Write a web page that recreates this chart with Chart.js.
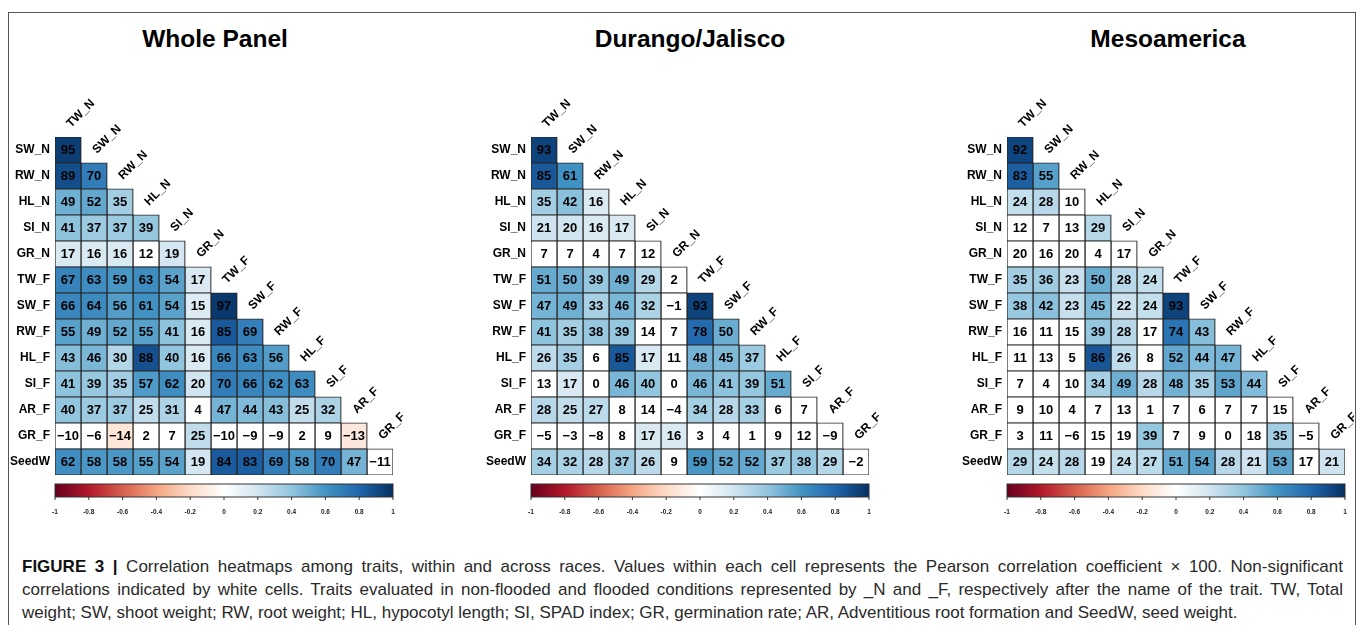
<!DOCTYPE html>
<html>
<head>
<meta charset="utf-8">
<script src="https://cdn.jsdelivr.net/npm/chart.js@4.4.1/dist/chart.umd.min.js"></script>
<style>
  html, body { margin: 0; padding: 0; background: #fff; }
  body { width: 1363px; height: 625px; position: relative; overflow: hidden; font-family: "Liberation Sans", Arial, sans-serif; }
  .frame { position: absolute; left: 8px; top: 12px; width: 1348px; height: 700px; border: 1px solid #555; box-sizing: border-box; }
  .ptitle { position: absolute; top: 25px; font-weight: bold; font-size: 24.5px; line-height: 28px; transform: translateX(-50%); white-space: nowrap; color: #000; }
  canvas { position: absolute; }
  .caption { position: absolute; left: 22px; width: 1321px; top: 555px; font-size: 17px; line-height: 23px; color: #2a2a2a; }
  .caption .j { text-align: justify; text-align-last: justify; }
  .caption b { color: #111; }
</style>
</head>
<body>
<div class="frame"></div>
<div class="ptitle" style="left:215px">Whole Panel</div>
<div class="ptitle" style="left:690px">Durango/Jalisco</div>
<div class="ptitle" style="left:1168px">Mesoamerica</div>
<canvas id="cWhole" width="433" height="450" style="left:0px;top:80px"></canvas>
<canvas id="cDurango" width="433" height="450" style="left:476px;top:80px"></canvas>
<canvas id="cMeso" width="402" height="450" style="left:952px;top:80px"></canvas>
<div class="caption">
  <div class="j"><b>FIGURE 3 |</b> Correlation heatmaps among traits, within and across races. Values within each cell represents the Pearson correlation coefficient × 100. Non-significant</div>
  <div class="j">correlations indicated by white cells. Traits evaluated in non-flooded and flooded conditions represented by _N and _F, respectively after the name of the trait. TW, Total</div>
  <div>weight; SW, shoot weight; RW, root weight; HL, hypocotyl length; SI, SPAD index; GR, germination rate; AR, Adventitious root formation and SeedW, seed weight.</div>
</div>
<script>
// Trait names: rows of the lower triangle and the columns above it
const rowTraits = ["SW_N", "RW_N", "HL_N", "SI_N", "GR_N", "TW_F", "SW_F", "RW_F", "HL_F", "SI_F", "AR_F", "GR_F", "SeedW"];
const colTraits = ["TW_N", "SW_N", "RW_N", "HL_N", "SI_N", "GR_N", "TW_F", "SW_F", "RW_F", "HL_F", "SI_F", "AR_F", "GR_F"];

// Colour key tick labels
const colorbarTicks = [-1, -0.8, -0.6, -0.4, -0.2, 0, 0.2, 0.4, 0.6, 0.8, 1];

// Pearson r x 100, lower triangle, one array per row
const wholeValues = [
  [95],
  [89, 70],
  [49, 52, 35],
  [41, 37, 37, 39],
  [17, 16, 16, 12, 19],
  [67, 63, 59, 63, 54, 17],
  [66, 64, 56, 61, 54, 15, 97],
  [55, 49, 52, 55, 41, 16, 85, 69],
  [43, 46, 30, 88, 40, 16, 66, 63, 56],
  [41, 39, 35, 57, 62, 20, 70, 66, 62, 63],
  [40, 37, 37, 25, 31, 4, 47, 44, 43, 25, 32],
  [-10, -6, -14, 2, 7, 25, -10, -9, -9, 2, 9, -13],
  [62, 58, 58, 55, 54, 19, 84, 83, 69, 58, 70, 47, -11]
];
// 1 = significant (coloured), 0 = not significant (white)
const wholeSig = [
  "1", "11", "111", "1111", "11101", "111111", "1111111", "11111111",
  "111111111", "1111111111", "11111011111", "001001000001", "1111111111110"
];

const durangoValues = [
  [93],
  [85, 61],
  [35, 42, 16],
  [21, 20, 16, 17],
  [7, 7, 4, 7, 12],
  [51, 50, 39, 49, 29, 2],
  [47, 49, 33, 46, 32, -1, 93],
  [41, 35, 38, 39, 14, 7, 78, 50],
  [26, 35, 6, 85, 17, 11, 48, 45, 37],
  [13, 17, 0, 46, 40, 0, 46, 41, 39, 51],
  [28, 25, 27, 8, 14, -4, 34, 28, 33, 6, 7],
  [-5, -3, -8, 8, 17, 16, 3, 4, 1, 9, 12, -9],
  [34, 32, 28, 37, 26, 9, 59, 52, 52, 37, 38, 29, -2]
];
const durangoSig = [
  "1", "11", "111", "1111", "00000", "111110", "1111101", "11110011",
  "110110111", "0101101111", "11100011100", "000011000000", "1111101111110"
];

const mesoValues = [
  [92],
  [83, 55],
  [24, 28, 10],
  [12, 7, 13, 29],
  [20, 16, 20, 4, 17],
  [35, 36, 23, 50, 28, 24],
  [38, 42, 23, 45, 22, 24, 93],
  [16, 11, 15, 39, 28, 17, 74, 43],
  [11, 13, 5, 86, 26, 8, 52, 44, 47],
  [7, 4, 10, 34, 49, 28, 48, 35, 53, 44],
  [9, 10, 4, 7, 13, 1, 7, 6, 7, 7, 15],
  [3, 11, -6, 15, 19, 39, 7, 9, 0, 18, 35, -5],
  [29, 24, 28, 19, 24, 27, 51, 54, 28, 21, 53, 17, 21]
];
const mesoSig = [
  "1", "11", "110", "0001", "00000", "111111", "1111111", "00011011",
  "000110111", "0001111111", "00000000000", "000001000010", "1110111111101"
];

// Diverging red-white-blue scale from -1 to 1
const rdbu = ["#67001F", "#B2182B", "#D6604D", "#F4A582", "#FDDBC7", "#FFFFFF",
              "#D1E5F0", "#92C5DE", "#4393C3", "#2166AC", "#053061"];

function hexToRgb(h) {
  return [parseInt(h.slice(1, 3), 16), parseInt(h.slice(3, 5), 16), parseInt(h.slice(5, 7), 16)];
}
function corrColor(r) {
  const t = Math.max(0, Math.min(1, (r + 1) / 2)) * (rdbu.length - 1);
  const i = Math.min(rdbu.length - 2, Math.floor(t));
  const f = t - i;
  const a = hexToRgb(rdbu[i]), b = hexToRgb(rdbu[i + 1]);
  const c = a.map((v, k) => Math.round(v + (b[k] - v) * f));
  return `rgb(${c[0]},${c[1]},${c[2]})`;
}
function fmt(v) { return v < 0 ? "\u2212" + Math.abs(v) : String(v); }

const FONT = '"Liberation Sans", Arial, Helvetica, sans-serif';

// Cell numbers, rotated column names and the colour key
const heatLabels = {
  id: 'heatLabels',
  afterDatasetsDraw(chart, args, opts) {
    const { ctx, scales: { x, y }, chartArea } = chart;
    const vals = opts.values;
    const rowH = y.getPixelForValue(1) - y.getPixelForValue(0);

    ctx.save();
    ctx.fillStyle = '#000';
    ctx.font = `bold 13px ${FONT}`;
    ctx.textAlign = 'center';
    ctx.textBaseline = 'middle';
    chart.data.datasets.forEach((ds, j) => {
      const meta = chart.getDatasetMeta(j);
      meta.data.forEach((bar, i) => {
        if (ds.data[i] == null) return;
        const p = bar.getProps(['x', 'y', 'base'], true);
        ctx.fillText(fmt(vals[i][j]), (p.x + p.base) / 2, p.y + 0.5);
      });
    });

    // Column names, written upward at 45 degrees above each column
    ctx.font = `bold 12px ${FONT}`;
    ctx.textAlign = 'left';
    ctx.textBaseline = 'alphabetic';
    colTraits.forEach((name, j) => {
      const cx = x.getPixelForValue(j + 0.5);
      const top = y.getPixelForValue(j) - rowH / 2;
      ctx.save();
      ctx.translate(cx + 3, top - 9);
      ctx.rotate(-Math.PI / 4);
      ctx.fillText(name, 0, 0);
      ctx.restore();
    });

    // Colour key under the triangle
    const left = x.getPixelForValue(0), right = x.getPixelForValue(colTraits.length);
    const top = chartArea.bottom + 9, h = 13;
    const grad = ctx.createLinearGradient(left, 0, right, 0);
    rdbu.forEach((c, k) => grad.addColorStop(k / (rdbu.length - 1), c));
    ctx.fillStyle = grad;
    ctx.fillRect(left, top, right - left, h);
    ctx.strokeStyle = '#333';
    ctx.lineWidth = 1;
    ctx.strokeRect(left, top, right - left, h);
    ctx.font = `bold 6.5px ${FONT}`;
    ctx.textAlign = 'center';
    ctx.textBaseline = 'middle';
    ctx.fillStyle = '#222';
    colorbarTicks.forEach(t => {
      const px = left + (t + 1) / 2 * (right - left);
      ctx.beginPath();
      ctx.moveTo(px, top + h);
      ctx.lineTo(px, top + h + 3);
      ctx.stroke();
      ctx.fillText(String(t), px, top + h + 15);
    });
    ctx.restore();
  }
};

function buildHeatmap(canvasId, values, sig, padRight) {
  const datasets = colTraits.map((c, j) => ({
    label: c,
    data: rowTraits.map((r, i) => (i >= j ? [j, j + 1] : null)),
    backgroundColor: rowTraits.map((r, i) =>
      (i >= j && sig[i][j] === '1') ? corrColor(values[i][j] / 100) : '#ffffff')
  }));
  return new Chart(document.getElementById(canvasId), {
    type: 'bar',
    data: { labels: rowTraits, datasets },
    options: {
      indexAxis: 'y',
      responsive: false,
      animation: false,
      events: [],
      layout: { padding: { left: 0, top: 57, right: padRight, bottom: 55 } },
      datasets: {
        bar: {
          grouped: false,
          barPercentage: 1,
          categoryPercentage: 1,
          borderWidth: 1.2,
          borderColor: '#262626',
          borderSkipped: false,
          inflateAmount: 0.6
        }
      },
      scales: {
        x: { type: 'linear', min: 0, max: colTraits.length, display: false },
        y: {
          type: 'category',
          offset: true,
          grid: { display: false, drawTicks: false },
          border: { display: false },
          ticks: { color: '#000', padding: 5, font: { family: FONT, size: 12, weight: 'bold' } },
          afterFit(scale) { scale.width = 55; }
        }
      },
      plugins: {
        legend: { display: false },
        tooltip: { enabled: false },
        heatLabels: { values }
      }
    },
    plugins: [heatLabels]
  });
}

buildHeatmap('cWhole', wholeValues, wholeSig, 40);
buildHeatmap('cDurango', durangoValues, durangoSig, 40);
buildHeatmap('cMeso', mesoValues, mesoSig, 9);
</script>
</body>
</html>
